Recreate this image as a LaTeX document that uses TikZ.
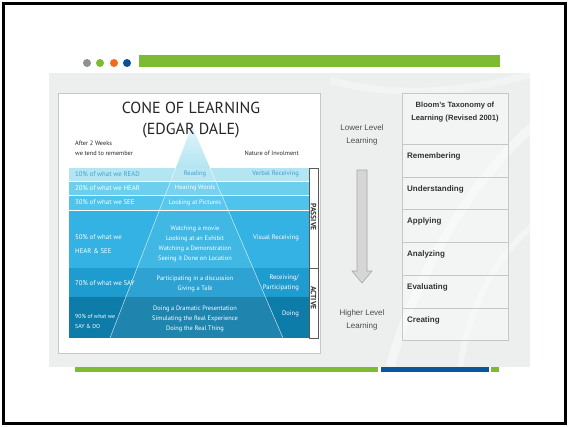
\documentclass[tikz,border=0pt]{standalone}
\usepackage{fontspec}
\setmainfont{Liberation Sans}
\newfontfamily\gillfont{PT Sans}
\usetikzlibrary{calc}

\definecolor{dotgrey}{HTML}{8C9194}
\definecolor{dotgreen}{HTML}{7DBB2F}
\definecolor{dotorange}{HTML}{F26B1D}
\definecolor{dotblue}{HTML}{0B4F9C}
\definecolor{bargreen}{HTML}{7DBB32}
\definecolor{barblue}{HTML}{0A55A0}
\definecolor{panel}{HTML}{EDEFEF}
\definecolor{bandA}{HTML}{B3E5F3}
\definecolor{bandB}{HTML}{6DCFEE}
\definecolor{bandC}{HTML}{4EC3EC}
\definecolor{bandD}{HTML}{33B2E3}
\definecolor{bandE}{HTML}{1F9CCF}
\definecolor{bandF}{HTML}{0E7CA9}
\definecolor{readblue}{HTML}{3D9FD3}
\definecolor{bloomline}{HTML}{C6C8C8}
\definecolor{arrowfill}{HTML}{D6D6D6}
\definecolor{arrowline}{HTML}{A6A6A6}

\tikzset{
  conetext/.style={font=\gillfont\fontsize{6.4}{10}\selectfont,text=white,inner sep=0pt,align=center},
  pcttext/.style={conetext,anchor=west,align=left,font=\gillfont\fontsize{6.8}{10}\selectfont},
  modetext/.style={conetext,anchor=east,align=right,font=\gillfont\fontsize{6.6}{10}\selectfont},
  headtext/.style={font=\gillfont\fontsize{6.3}{10}\selectfont,text=black!85,inner sep=0pt,align=left},
  sidetext/.style={font=\fontsize{8}{13}\selectfont,text=black!70,inner sep=0pt,align=center},
  bloomcell/.style={draw=bloomline,fill=white,fill opacity=.35,line width=.8pt},
  bloomtext/.style={font=\bfseries\fontsize{8}{13}\selectfont,text=black!80,inner sep=0pt,anchor=west},
  sidebox/.style={font=\gillfont\bfseries\fontsize{7.6}{7.6}\selectfont,text=black!80,inner sep=0pt,rotate=-90},
}

\begin{document}
\begin{tikzpicture}[x=1pt,y=-1pt]
\useasboundingbox (0,0) rectangle (569,426);
\draw[line width=2.2pt] (3.5,3.5) rectangle (565.5,423.5);

% header dots and bar
\foreach \xc/\col in {87/dotgrey,100/dotgreen,114/dotorange,127/dotblue}
  \fill[\col] (\xc,63) circle (4pt);
\fill[bargreen] (139,55) rectangle (500,67);

% grey slide panel with faint swirls
\fill[panel] (49,73) rectangle (530,367);
\begin{scope}
  \clip (49,73) rectangle (530,367);
  \draw[white,line width=9pt,opacity=.4] (390,367) .. controls (420,260) and (480,170) .. (540,120);
  \draw[white,line width=6pt,opacity=.35] (460,367) .. controls (470,300) and (500,250) .. (540,220);
  \draw[white,line width=7pt,opacity=.3] (330,80) .. controls (400,100) and (470,90) .. (530,75);
\end{scope}

% cone of learning card
\draw[fill=white,draw=black!22,line width=.8pt] (58,93) rectangle (320,353);
\coordinate (apex) at (192,126);
\coordinate (bl) at (110,338);
\coordinate (br) at (283,338);
\shade[top color=bandA!40,bottom color=bandA] (apex) -- ($(apex)!.198!(bl)$) -- ($(apex)!.198!(br)$) -- cycle;

\foreach \ytop/\ybot/\col in {168/181/bandA,181/195/bandB,195/210/bandC,210/268/bandD,268/297/bandE,297/338/bandF}
  \fill[\col] (69,\ytop) rectangle (309,\ybot);
\draw[white,line width=.7pt] (69,181) -- (309,181) (69,195) -- (309,195) (69,210) -- (309,210);

\fill[white,opacity=.07] ($(apex)!.198!(bl)$) -- (bl) -- (br) -- ($(apex)!.198!(br)$) -- cycle;
\draw[white,opacity=.75,line width=.5pt] ($(apex)!.198!(bl)$) -- (bl) (br) -- ($(apex)!.198!(br)$);

\draw[black!65,line width=.5pt] (309,168) rectangle (318,338) (309,268) -- (318,268);
\node[sidebox] (passive) at (313.5,217) {PASSIVE};
\node[sidebox] (active) at (313.5,298) {ACTIVE};

\node[font=\gillfont\fontsize{16}{21}\selectfont,text=black!85,align=center] (title) at (191,120) {CONE OF LEARNING\\(EDGAR DALE)};
\node[headtext,anchor=west] (after) at (75,148) {After 2 Weeks\\we tend to remember};
\node[headtext,anchor=east] (nature) at (299,153) {Nature of Involment};

\node[pcttext,text=readblue] (pctA) at (75,174) {10\% of what we READ};
\node[pcttext] (pctB) at (75,188) {20\% of what we HEAR};
\node[pcttext] (pctC) at (75,202.5) {30\% of what we SEE};
\node[pcttext,font=\gillfont\fontsize{6.8}{14}\selectfont] (pctD) at (75,244) {50\% of what we\\HEAR \& SEE};
\node[pcttext] (pctE) at (75,283) {70\% of what we SAY};
\node[pcttext,font=\gillfont\fontsize{5.8}{9.5}\selectfont] (pctF) at (75,321.5) {90\% of what we\\SAY \& DO};

\node[conetext,text=readblue] (actA) at (195,174) {Reading};
\node[conetext] (actB) at (195,188) {Hearing Words};
\node[conetext] (actC) at (195,202.5) {Looking at Pictures};
\node[conetext] (actD) at (195,244) {Watching a movie\\Looking at an Exhibit\\Watching a Demonstration\\Seeing it Done on Location};
\node[conetext] (actE) at (195,284) {Participating in a discussion\\Giving a Talk};
\node[conetext] (actF) at (195,319) {Doing a Dramatic Presentation\\Simulating the Real Experience\\Doing the Real Thing};

\node[modetext,text=readblue] (modeA) at (299,174) {Verbal Receiving};
\node[modetext] (modeD) at (299,238) {Visual Receiving};
\node[modetext] (modeE) at (299,283) {Receiving/\\Participating};
\node[modetext] (modeF) at (299,314) {Doing};

% learning level arrow
\node[sidetext] (lower) at (362,135) {Lower Level\\Learning};
\draw[fill=arrowfill,draw=arrowline,line width=.6pt] (357,170) -- (367,170) -- (367,271) -- (372,271)
  -- (362,283) -- (352,271) -- (357,271) -- cycle;
\node[sidetext] (higher) at (362,319.5) {Higher Level\\Learning};

% bloom table
\draw[bloomcell] (402,93) rectangle (508,144);
\node[sidetext,font=\bfseries\fontsize{7.6}{12.5}\selectfont,text=black!80] (bloomtitle) at (455,112) {Bloom’s Taxonomy of\\Learning (Revised 2001)};
\foreach \ytop/\ybot/\lbl [count=\i] in {144/177/Remembering,177/209/Understanding,209/242/Applying,242/275/Analyzing,275/308/Evaluating,308/340/Creating}
{
  \draw[bloomcell] (402,\ytop) rectangle (508,\ybot);
  \node[bloomtext] (bloom\i) at (407,\ytop+12) {\lbl};
}

% footer bars
\fill[bargreen] (75,367) rectangle (378,372);
\fill[barblue] (381,367) rectangle (489,372);
\fill[bargreen] (491,367) rectangle (499,372);
\end{tikzpicture}
\end{document}
